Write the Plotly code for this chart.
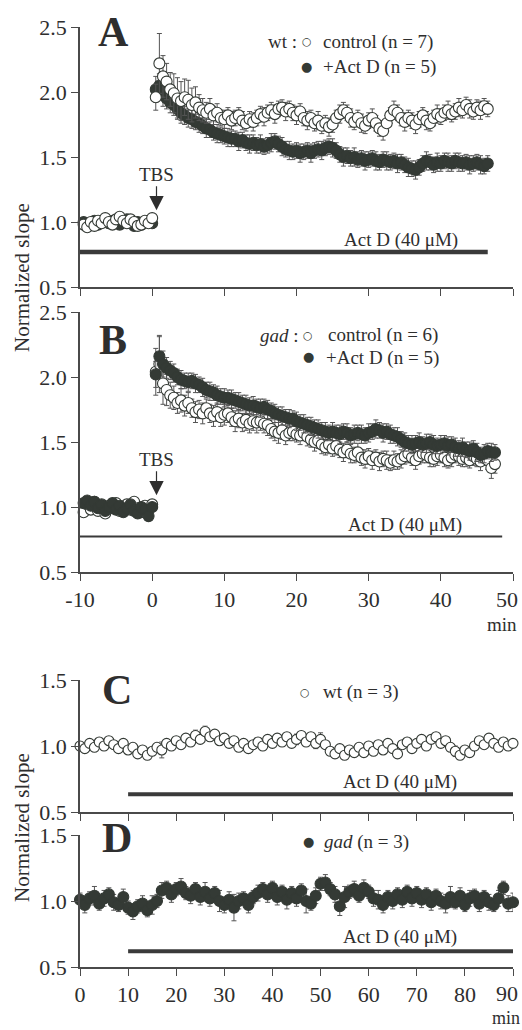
import numpy as np
import plotly.graph_objects as go

# ---- data ----
# panels A/B: sampled every 0.5 min, baseline -9.5..0, post-TBS 0.5..end
t_base = np.arange(-9.5, 0.01, 0.5)
t_post_a = np.arange(0.5, 46.51, 0.5)
t_post_b = np.arange(0.5, 47.51, 0.5)

a_wt_ctrl = [0.98, 0.96, 1.00, 0.97, 1.01, 0.99, 1.03, 1.00, 0.98, 1.02,
             1.04, 1.01, 0.99, 1.02, 1.00, 0.97, 0.98, 1.01, 0.99, 1.03,
             1.96, 2.22, 2.12, 2.08, 2.02, 1.99, 1.95, 1.93, 1.96, 1.94,
             1.90, 1.92, 1.88, 1.86, 1.84, 1.87, 1.82, 1.84, 1.80, 1.79,
             1.82, 1.78, 1.80, 1.82, 1.78, 1.76, 1.79, 1.77, 1.80, 1.83,
             1.81, 1.84, 1.86, 1.83, 1.87, 1.88, 1.85, 1.87, 1.84, 1.82,
             1.85, 1.80, 1.78, 1.80, 1.76, 1.78, 1.74, 1.76, 1.73, 1.75,
             1.80, 1.83, 1.86, 1.84, 1.80, 1.77, 1.80, 1.76, 1.74, 1.78,
             1.80, 1.76, 1.72, 1.70, 1.76, 1.82, 1.86, 1.84, 1.80, 1.77,
             1.80, 1.78, 1.75, 1.79, 1.82, 1.78, 1.76, 1.80, 1.83, 1.81,
             1.84, 1.86, 1.83, 1.85, 1.88, 1.86, 1.90, 1.87, 1.85, 1.88,
             1.86, 1.89, 1.87]
a_wt_ctrl_err = [0.02, 0.03, 0.02, 0.02, 0.03, 0.02, 0.03, 0.02, 0.02, 0.03,
                 0.03, 0.02, 0.02, 0.03, 0.02, 0.02, 0.03, 0.02, 0.02, 0.03,
                 0.10, 0.23, 0.16, 0.14, 0.13, 0.15, 0.16, 0.15, 0.14, 0.15,
                 0.13, 0.12, 0.10, 0.09, 0.08, 0.08, 0.07, 0.07, 0.06, 0.07,
                 0.06, 0.07, 0.06, 0.06, 0.07, 0.06, 0.06, 0.07, 0.06, 0.06,
                 0.07, 0.06, 0.06, 0.07, 0.06, 0.06, 0.07, 0.06, 0.06, 0.07,
                 0.06, 0.06, 0.07, 0.06, 0.06, 0.07, 0.06, 0.06, 0.07, 0.06,
                 0.06, 0.07, 0.06, 0.06, 0.07, 0.06, 0.06, 0.07, 0.06, 0.06,
                 0.07, 0.06, 0.06, 0.07, 0.06, 0.06, 0.07, 0.06, 0.06, 0.07,
                 0.06, 0.06, 0.07, 0.06, 0.06, 0.07, 0.06, 0.06, 0.07, 0.06,
                 0.06, 0.07, 0.06, 0.06, 0.07, 0.06, 0.06, 0.07, 0.06, 0.06,
                 0.07, 0.06, 0.06]
a_wt_actd = [1.00, 0.97, 0.99, 1.01, 0.98, 1.00, 1.02, 0.99, 1.01, 1.00,
             0.98, 1.01, 1.02, 0.99, 0.97, 1.00, 0.98, 1.00, 1.01, 0.99,
             2.02, 2.05, 1.98, 1.95, 1.92, 1.90, 1.87, 1.84, 1.82, 1.80,
             1.79, 1.77, 1.76, 1.74, 1.72, 1.71, 1.69, 1.68, 1.67, 1.66,
             1.65, 1.64, 1.64, 1.62, 1.63, 1.61, 1.60, 1.61, 1.59, 1.60,
             1.58, 1.59, 1.61, 1.62, 1.60, 1.58, 1.56, 1.55, 1.54, 1.55,
             1.53, 1.54, 1.55, 1.53, 1.55, 1.56, 1.55, 1.57, 1.58, 1.57,
             1.55, 1.52, 1.50, 1.51, 1.49, 1.50, 1.48, 1.49, 1.47, 1.48,
             1.49, 1.47, 1.46, 1.48, 1.47, 1.46, 1.47, 1.45, 1.46, 1.44,
             1.42, 1.41, 1.40, 1.42, 1.45, 1.47, 1.46, 1.44, 1.46, 1.45,
             1.47, 1.46, 1.45, 1.47, 1.46, 1.45, 1.46, 1.44, 1.45, 1.46,
             1.44, 1.43, 1.45]
a_wt_actd_err = [0.03, 0.02, 0.03, 0.02, 0.03, 0.02, 0.02, 0.03, 0.02, 0.03,
                 0.02, 0.03, 0.02, 0.03, 0.02, 0.03, 0.02, 0.02, 0.03, 0.02,
                 0.10, 0.09, 0.09, 0.08, 0.08, 0.08, 0.07, 0.08, 0.07, 0.07,
                 0.07, 0.06, 0.07, 0.06, 0.07, 0.06, 0.06, 0.07, 0.06, 0.06,
                 0.07, 0.06, 0.06, 0.07, 0.06, 0.06, 0.07, 0.06, 0.06, 0.07,
                 0.06, 0.06, 0.07, 0.06, 0.06, 0.07, 0.06, 0.07, 0.06, 0.06,
                 0.07, 0.06, 0.06, 0.07, 0.06, 0.06, 0.07, 0.06, 0.06, 0.07,
                 0.06, 0.06, 0.07, 0.06, 0.06, 0.07, 0.06, 0.06, 0.07, 0.06,
                 0.06, 0.07, 0.06, 0.06, 0.07, 0.06, 0.06, 0.07, 0.06, 0.06,
                 0.07, 0.06, 0.07, 0.06, 0.06, 0.07, 0.06, 0.06, 0.07, 0.06,
                 0.06, 0.07, 0.06, 0.06, 0.07, 0.06, 0.06, 0.07, 0.06, 0.06,
                 0.07, 0.06, 0.06]

b_gad_ctrl = [0.96, 1.02, 0.98, 1.04, 0.97, 1.00, 0.95, 1.01, 0.99, 1.03,
              0.97, 1.00, 1.02, 0.98, 1.04, 0.99, 0.96, 1.01, 0.98, 1.02,
              2.04, 2.10, 1.95, 1.90, 1.86, 1.84, 1.80, 1.82, 1.78, 1.80,
              1.76, 1.73, 1.75, 1.72, 1.76, 1.72, 1.70, 1.73, 1.69, 1.71,
              1.72, 1.69, 1.66, 1.68, 1.65, 1.67, 1.64, 1.66, 1.65, 1.66,
              1.64, 1.63, 1.60, 1.58, 1.57, 1.59, 1.55, 1.57, 1.58, 1.56,
              1.55, 1.57, 1.54, 1.52, 1.50, 1.51, 1.48, 1.46, 1.48, 1.45,
              1.47, 1.44, 1.42, 1.44, 1.41, 1.40, 1.42, 1.38, 1.37, 1.39,
              1.36, 1.38, 1.35, 1.37, 1.36, 1.34, 1.36, 1.35, 1.37, 1.39,
              1.41, 1.38, 1.36, 1.39, 1.41, 1.40, 1.38, 1.37, 1.39, 1.40,
              1.38, 1.36, 1.38, 1.40, 1.39, 1.37, 1.38, 1.36, 1.39, 1.37,
              1.35, 1.38, 1.36, 1.30, 1.33]
b_gad_ctrl_err = [0.03, 0.02, 0.03, 0.02, 0.03, 0.02, 0.03, 0.02, 0.03, 0.02,
                  0.03, 0.02, 0.03, 0.02, 0.03, 0.02, 0.03, 0.02, 0.03, 0.02,
                  0.18, 0.22, 0.16, 0.12, 0.10, 0.09, 0.08, 0.09, 0.08, 0.08,
                  0.07, 0.08, 0.07, 0.08, 0.07, 0.07, 0.08, 0.07, 0.07, 0.08,
                  0.07, 0.07, 0.08, 0.07, 0.07, 0.08, 0.07, 0.07, 0.08, 0.07,
                  0.07, 0.08, 0.07, 0.07, 0.08, 0.07, 0.07, 0.06, 0.07, 0.06,
                  0.07, 0.06, 0.07, 0.06, 0.07, 0.06, 0.07, 0.06, 0.07, 0.06,
                  0.07, 0.06, 0.07, 0.06, 0.07, 0.06, 0.07, 0.06, 0.07, 0.06,
                  0.07, 0.06, 0.07, 0.06, 0.07, 0.06, 0.07, 0.06, 0.07, 0.06,
                  0.07, 0.06, 0.07, 0.06, 0.07, 0.06, 0.07, 0.06, 0.07, 0.06,
                  0.07, 0.06, 0.07, 0.06, 0.07, 0.06, 0.07, 0.06, 0.07, 0.06,
                  0.07, 0.06, 0.07, 0.08, 0.07]
b_gad_actd = [1.03, 1.05, 1.01, 1.04, 0.99, 1.02, 0.97, 1.00, 1.03, 0.98,
              1.01, 0.96, 0.99, 1.02, 0.97, 0.95, 1.00, 0.98, 0.93, 1.00,
              2.02, 2.16, 2.10, 2.07, 2.05, 2.03, 2.00, 1.98, 1.97, 1.96,
              1.97, 1.95, 1.94, 1.92, 1.90, 1.89, 1.88, 1.86, 1.85, 1.84,
              1.84, 1.83, 1.82, 1.81, 1.80, 1.79, 1.78, 1.78, 1.77, 1.76,
              1.77, 1.75, 1.74, 1.72, 1.71, 1.70, 1.69, 1.68, 1.68, 1.66,
              1.65, 1.64, 1.63, 1.62, 1.61, 1.60, 1.59, 1.58, 1.57, 1.58,
              1.57, 1.56, 1.58, 1.57, 1.55, 1.56, 1.57, 1.56, 1.55, 1.57,
              1.58, 1.60, 1.59, 1.57, 1.58, 1.56, 1.55, 1.54, 1.52, 1.50,
              1.49, 1.48, 1.49, 1.50, 1.48, 1.49, 1.50, 1.48, 1.47, 1.48,
              1.49, 1.47, 1.48, 1.46, 1.45, 1.46, 1.44, 1.43, 1.45, 1.42,
              1.40, 1.41, 1.43, 1.42, 1.42]
b_gad_actd_err = [0.02, 0.03, 0.02, 0.03, 0.02, 0.03, 0.02, 0.03, 0.02, 0.03,
                  0.02, 0.03, 0.02, 0.03, 0.02, 0.03, 0.02, 0.03, 0.02, 0.03,
                  0.10, 0.15, 0.10, 0.08, 0.07, 0.07, 0.06, 0.07, 0.06, 0.07,
                  0.06, 0.07, 0.06, 0.07, 0.06, 0.07, 0.06, 0.07, 0.06, 0.07,
                  0.06, 0.07, 0.06, 0.07, 0.06, 0.07, 0.06, 0.07, 0.06, 0.07,
                  0.06, 0.07, 0.06, 0.07, 0.06, 0.07, 0.06, 0.07, 0.06, 0.07,
                  0.06, 0.07, 0.06, 0.07, 0.06, 0.07, 0.06, 0.07, 0.06, 0.07,
                  0.06, 0.07, 0.06, 0.07, 0.06, 0.07, 0.06, 0.07, 0.06, 0.07,
                  0.06, 0.07, 0.06, 0.07, 0.06, 0.07, 0.06, 0.07, 0.06, 0.07,
                  0.06, 0.07, 0.06, 0.07, 0.06, 0.07, 0.06, 0.07, 0.06, 0.07,
                  0.06, 0.07, 0.06, 0.07, 0.06, 0.07, 0.06, 0.07, 0.06, 0.07,
                  0.06, 0.07, 0.06, 0.07, 0.06]

# panels C/D: Act D alone, sampled every minute 0..90
t_cd = np.arange(0, 91, 1)
c_wt = [1.00, 0.98, 1.02, 0.99, 1.03, 1.00, 1.04, 1.01, 0.98, 1.02,
        0.97, 0.99, 0.94, 0.97, 0.93, 0.96, 0.99, 0.97, 1.02, 1.00,
        1.04, 1.01, 1.06, 1.03, 1.08, 1.05, 1.11, 1.07, 1.09, 1.04,
        1.06, 1.02, 1.04, 0.99, 1.02, 0.98, 1.01, 1.03, 1.00, 1.05,
        1.02, 1.06, 1.03, 1.07, 1.02, 1.05, 1.08, 1.03, 1.07, 1.02,
        1.05, 1.01, 0.96, 0.94, 0.98, 0.93, 0.97, 0.95, 0.99, 0.95,
        1.00, 0.96, 1.01, 0.97, 1.02, 0.98, 0.94, 1.01, 1.03, 0.98,
        1.02, 1.05, 1.00, 1.05, 1.07, 1.02, 1.04, 0.99, 0.96, 0.93,
        0.97, 0.95, 1.00, 1.04, 1.01, 1.06, 1.02, 0.99, 1.03, 1.00, 1.02]
c_wt_err = [0.02, 0.03, 0.02, 0.03, 0.02, 0.03, 0.02, 0.03, 0.02, 0.03,
            0.02, 0.03, 0.02, 0.03, 0.02, 0.03, 0.03, 0.06, 0.02, 0.03,
            0.02, 0.03, 0.02, 0.03, 0.04, 0.03, 0.04, 0.03, 0.02, 0.03,
            0.02, 0.03, 0.02, 0.03, 0.02, 0.03, 0.02, 0.03, 0.02, 0.03,
            0.02, 0.03, 0.02, 0.03, 0.02, 0.04, 0.03, 0.02, 0.03, 0.04,
            0.05, 0.03, 0.02, 0.03, 0.02, 0.03, 0.02, 0.03, 0.02, 0.03,
            0.02, 0.03, 0.02, 0.03, 0.02, 0.03, 0.02, 0.03, 0.02, 0.03,
            0.02, 0.03, 0.02, 0.03, 0.02, 0.03, 0.02, 0.03, 0.04, 0.03,
            0.02, 0.03, 0.02, 0.03, 0.02, 0.03, 0.02, 0.03, 0.02, 0.03, 0.02]
d_gad = [1.01, 0.97, 1.02, 1.04, 0.98, 1.02, 1.05, 0.99, 0.97, 1.03,
         0.95, 0.92, 0.96, 0.98, 0.93, 0.97, 1.00, 1.08, 1.10, 1.05,
         1.09, 1.11, 1.06, 1.04, 1.09, 1.03, 1.07, 1.02, 1.06, 1.00,
         0.97, 1.01, 0.95, 1.00, 1.02, 0.97, 1.03, 1.06, 1.09, 1.05,
         1.10, 1.03, 1.07, 1.01, 1.06, 1.02, 1.08, 1.00, 0.98, 1.04,
         1.13, 1.14, 1.09, 1.05, 0.96, 1.03, 1.07, 1.09, 1.04, 1.10,
         1.07, 1.02, 1.01, 0.97, 1.03, 1.00, 1.05, 1.01, 1.07, 1.02,
         1.06, 1.01, 1.05, 0.99, 1.04, 1.00, 0.98, 1.03, 0.99, 1.04,
         0.97, 1.02, 1.04, 0.98, 1.03, 0.99, 0.97, 1.02, 1.10, 0.98, 0.99]
d_gad_err = [0.05, 0.06, 0.05, 0.07, 0.05, 0.06, 0.05, 0.06, 0.05, 0.06,
             0.05, 0.06, 0.05, 0.06, 0.05, 0.07, 0.05, 0.06, 0.05, 0.06,
             0.05, 0.06, 0.05, 0.06, 0.05, 0.06, 0.07, 0.06, 0.05, 0.08,
             0.06, 0.06, 0.10, 0.06, 0.05, 0.06, 0.05, 0.06, 0.05, 0.06,
             0.05, 0.06, 0.05, 0.07, 0.05, 0.06, 0.05, 0.09, 0.05, 0.06,
             0.05, 0.06, 0.05, 0.06, 0.07, 0.08, 0.05, 0.06, 0.05, 0.06,
             0.05, 0.06, 0.07, 0.06, 0.05, 0.06, 0.05, 0.06, 0.05, 0.06,
             0.05, 0.06, 0.05, 0.06, 0.05, 0.06, 0.07, 0.08, 0.05, 0.06,
             0.05, 0.06, 0.05, 0.06, 0.05, 0.06, 0.05, 0.06, 0.05, 0.06, 0.07]

# Act D application bars (start, end, level)
actd_a = [-10, 46.5, 0.77]
actd_b = [-10, 48.5, 0.773]
actd_c = [10, 90.5, 0.635]
actd_d = [10, 90.5, 0.62]

# tick labels; the last label of each time axis sits left of its tick (as printed)
ab_ticks = [-10, 0, 10, 20, 30, 40, 50]
ab_labels = ["-10", "0", "10", "20", "30", "40", ""]
ab_last = "50"
cd_ticks = [0, 10, 20, 30, 40, 50, 60, 70, 80, 90]
cd_labels = ["0", "10", "20", "30", "40", "50", "60", "70", "80", ""]
cd_last = "90"
ab_yticks = [0.5, 1.0, 1.5, 2.0, 2.5]
cd_yticks = [0.5, 1.0, 1.5]

assert len(a_wt_ctrl) == len(a_wt_ctrl_err) == len(a_wt_actd) == len(a_wt_actd_err) == len(t_base) + len(t_post_a)
assert len(b_gad_ctrl) == len(b_gad_ctrl_err) == len(b_gad_actd) == len(b_gad_actd_err) == len(t_base) + len(t_post_b)
assert len(c_wt) == len(c_wt_err) == len(d_gad) == len(d_gad_err) == len(t_cd)

# ---- style ----
W, H = 522, 1030
ML, MR = 80, 9
SERIF = "Liberation Serif, Times New Roman, serif"
INK = "#2e2e2e"
DARK = "#343a35"
AXC = "#4a4a4a"


def px(x):
    # window pixel -> paper x
    return (x - ML) / (W - ML - MR)


def py(y):
    # window pixel -> paper y
    return 1 - y / H


def dom(top, bottom):
    return [py(bottom), py(top)]


def series(x, y, err, filled, xa, ya, size=11):
    return go.Scatter(
        x=x, y=y, mode="markers", xaxis=xa, yaxis=ya, cliponaxis=False,
        showlegend=False,
        marker=dict(size=size, symbol="circle",
                    color=DARK if filled else "white",
                    line=dict(color=DARK, width=1.1)),
        error_y=dict(type="data", array=err, visible=True, color="#555",
                     thickness=1, width=2.5),
    )


def bar(spec, width, xa, ya):
    return go.Scatter(x=[spec[0], spec[1]], y=[spec[2], spec[2]], mode="lines",
                      xaxis=xa, yaxis=ya, showlegend=False, cliponaxis=False,
                      line=dict(color="#3a3a3a", width=width))


t_a = np.concatenate([t_base, t_post_a])
t_b = np.concatenate([t_base, t_post_b])

fig = go.Figure()
fig.add_trace(bar(actd_a, 4.5, "x", "y"))
fig.add_trace(series(t_a, a_wt_actd, a_wt_actd_err, True, "x", "y"))
fig.add_trace(series(t_a, a_wt_ctrl, a_wt_ctrl_err, False, "x", "y"))
fig.add_trace(bar(actd_b, 2, "x2", "y2"))
fig.add_trace(series(t_b, b_gad_ctrl, b_gad_ctrl_err, False, "x2", "y2"))
fig.add_trace(series(t_b, b_gad_actd, b_gad_actd_err, True, "x2", "y2"))
fig.add_trace(bar(actd_c, 4, "x3", "y3"))
fig.add_trace(series(t_cd, c_wt, c_wt_err, False, "x3", "y3", size=10))
fig.add_trace(bar(actd_d, 4, "x4", "y4"))
fig.add_trace(series(t_cd, d_gad, d_gad_err, True, "x4", "y4", size=11))

tickfont = dict(family=SERIF, size=22, color=INK)
xcommon = dict(domain=[0, 1], showline=True, linecolor=AXC, linewidth=1.5,
               ticks="outside", ticklen=7, tickwidth=1.3, tickcolor=AXC,
               showgrid=False, zeroline=False, tickfont=tickfont,
               automargin=False, fixedrange=True)
ycommon = dict(showline=True, linecolor=AXC, linewidth=1.5, ticks="outside",
               ticklen=7, tickwidth=1.3, tickcolor=AXC, showgrid=False,
               zeroline=False, tickfont=tickfont, automargin=False,
               fixedrange=True)

ab_ytext = ["%.1f" % v for v in ab_yticks]
cd_ytext = ["%.1f" % v for v in cd_yticks]
fig.update_layout(
    xaxis=dict(xcommon, anchor="y", range=[-10, 50], tickvals=ab_ticks, showticklabels=False),
    yaxis=dict(ycommon, anchor="x", domain=dom(27, 287), range=[0.5, 2.5],
               tickvals=ab_yticks, ticktext=ab_ytext),
    xaxis2=dict(xcommon, anchor="y2", range=[-10, 50], tickvals=ab_ticks, ticktext=ab_labels),
    yaxis2=dict(ycommon, anchor="x2", domain=dom(312, 572), range=[0.5, 2.5],
                tickvals=ab_yticks, ticktext=ab_ytext),
    xaxis3=dict(xcommon, anchor="y3", range=[0, 90], tickvals=cd_ticks, showticklabels=False),
    yaxis3=dict(ycommon, anchor="x3", domain=dom(680, 812), range=[0.5, 1.5],
                tickvals=cd_yticks, ticktext=cd_ytext),
    xaxis4=dict(xcommon, anchor="y4", range=[0, 90], tickvals=cd_ticks, ticktext=cd_labels),
    yaxis4=dict(ycommon, anchor="x4", domain=dom(835, 967), range=[0.5, 1.5],
                tickvals=cd_yticks, ticktext=cd_ytext),
    width=W, height=H,
    margin=dict(l=ML, r=MR, t=0, b=0),
    paper_bgcolor="white", plot_bgcolor="white",
    font=dict(family=SERIF, color=INK),
)


def note(text, x, y, size=19, xanchor="center", bold=False, angle=0):
    if bold:
        text = "<b>" + text + "</b>"
    fig.add_annotation(text=text, x=px(x), y=py(y), xref="paper", yref="paper",
                       xanchor=xanchor, yanchor="middle", showarrow=False,
                       borderpad=0, textangle=angle,
                       font=dict(family=SERIF, size=size, color=INK))


def glyph(ch, x, y, size=11):
    fig.add_annotation(text=ch, x=px(x), y=py(y), xref="paper", yref="paper",
                       xanchor="center", yanchor="middle", showarrow=False,
                       font=dict(family="DejaVu Sans", size=size, color=DARK))


# panel letters
note("A", 113, 32, size=42, bold=True)
note("B", 113, 340, size=42, bold=True)
note("C", 117, 690, size=42, bold=True)
note("D", 117, 838, size=42, bold=True)

# legends
note("wt :", 298, 42, xanchor="right")
glyph("○", 307, 42)
note("control (n = 7)", 322, 42, xanchor="left")
glyph("●", 306, 66, size=13)
note("+Act D (n = 5)", 322, 67, xanchor="left")

note("<i>gad</i> :", 300, 335, xanchor="right")
glyph("○", 308, 335)
note("control (n = 6)", 327, 335, xanchor="left")
glyph("●", 308, 357, size=13)
note("+Act D (n = 5)", 325, 358, xanchor="left")

glyph("○", 305, 692)
note("wt (n = 3)", 322, 692, xanchor="left")
glyph("●", 308, 841, size=13)
note("<i>gad</i> (n = 3)", 323, 842, xanchor="left")

# Act D labels
note("Act D (40 μM)", 401, 240)
note("Act D (40 μM)", 405, 525)
note("Act D (40 μM)", 400, 782)
note("Act D (40 μM)", 400, 937)

# TBS arrows
for xa, ya in (("x", "y"), ("x2", "y2")):
    fig.add_annotation(text="TBS", x=0.6, y=1.09, xref=xa, yref=ya, ax=0, ay=-36,
                       showarrow=True, arrowhead=2, arrowsize=2.4, arrowwidth=1.2,
                       arrowcolor=INK, font=dict(family=SERIF, size=19, color=INK))

# last time-axis labels, nudged inside the page edge
note(ab_last, 507, 599, size=22)
note(cd_last, 507, 993, size=22)

# axis titles / units
note("Normalized slope", 22, 278, size=21, angle=-90)
note("Normalized slope", 22, 828, size=21, angle=-90)
note("min", 502, 624, size=19)
note("min", 506, 1018, size=18)

# the default page has an 8px body margin; drop it so the figure fills the window
fig.write_html("out.html", config={"displayModeBar": False},
               post_script="document.body.style.margin='0px';document.body.style.overflow='hidden';")
